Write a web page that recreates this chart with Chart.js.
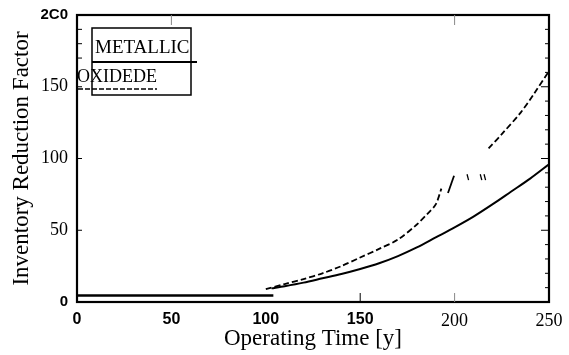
<!DOCTYPE html>
<html>
<head>
<meta charset="utf-8">
<script src="https://cdn.jsdelivr.net/npm/chart.js@4.4.1/dist/chart.umd.min.js"></script>
<style>
  html, body { margin: 0; padding: 0; background: #fff; }
  #wrap { width: 569px; height: 355px; }
</style>
</head>
<body>
<div id="wrap"><canvas id="chart" width="569" height="355"></canvas></div>
<script>
// Flat base line
const flatTime = [0, 104];
const flatValue = [4.5, 4.5];

// Metallic fuel (solid)
const metalTime = [103, 110, 120, 130, 140, 150, 160, 170, 180, 190, 200, 210, 220, 230, 240, 250];
const metalValue = [9.5, 11, 13.5, 16.5, 19.5, 23, 27, 32, 38, 45, 52, 59.5, 68, 77, 86, 96];

// Oxide fuel (dashed), two pieces with a gap
const oxideTime = [100, 110, 120, 130, 140, 150, 160, 170, 180, 186, 190, 193, 205, 218, 225, 235, 242, 250];
const oxideValue = [9, 12.5, 16, 20, 25, 31, 37, 43.5, 54, 62, 68, 79, null, 107, 117, 132, 145, 161];

// Stray fragments in the gap
const fragTime = [196.5, 199.7];
const fragValue = [76, 88];
const tickMarkTime = [207, 214, 216];
const tickMarkValue = [87, 87, 87];

const yTicks = [0, 50, 100, 150, 200];
const xTicks = [0, 50, 100, 150, 200, 250];

const pts = (xs, ys) => xs.map((x, i) => ({ x, y: ys[i] }));

const serif = "'Liberation Serif', 'DejaVu Serif', serif";
const sans = "'Liberation Sans', Arial, sans-serif";

// frame, inward ticks and the boxed legend
const decor = {
  id: "decor",
  afterDraw(chart) {
    const { ctx, chartArea: a, scales } = chart;
    const xs = scales.x, ys = scales.y;
    ctx.save();
    ctx.strokeStyle = "#000";
    ctx.lineWidth = 2.2;
    ctx.strokeRect(a.left, a.top, a.right - a.left, a.bottom - a.top);

    ctx.lineWidth = 1;
    // right side minor ticks every 10
    for (let v = 10; v < 200; v += 10) {
      const y = ys.getPixelForValue(v);
      ctx.beginPath();
      ctx.moveTo(a.right, y);
      ctx.lineTo(a.right - (v % 50 === 0 ? 8 : 4), y);
      ctx.stroke();
    }
    // left side ticks
    [50, 100, 150, 170, 180, 190].forEach((v) => {
      const y = ys.getPixelForValue(v);
      ctx.beginPath();
      ctx.moveTo(a.left, y);
      ctx.lineTo(a.left + 5, y);
      ctx.stroke();
    });
    // top / bottom ticks
    ctx.strokeStyle = "#888";
    [50, 200].forEach((v) => {
      const x = xs.getPixelForValue(v);
      ctx.beginPath();
      ctx.moveTo(x, a.top);
      ctx.lineTo(x, a.top + 10);
      ctx.stroke();
    });
    [150, 200].forEach((v) => {
      const x = xs.getPixelForValue(v);
      ctx.strokeStyle = v === 150 ? "#000" : "#888";
      ctx.beginPath();
      ctx.moveTo(x, a.bottom);
      ctx.lineTo(x, a.bottom - 9);
      ctx.stroke();
    });

    // legend box
    ctx.strokeStyle = "#000";
    ctx.lineWidth = 1.5;
    ctx.strokeRect(92, 28, 99, 67);
    ctx.fillStyle = "#000";
    ctx.textBaseline = "middle";
    ctx.textAlign = "left";
    ctx.font = "19px " + serif;
    ctx.fillText("METALLIC", 95, 48);
    ctx.font = "18px " + serif;
    ctx.fillText("OXIDEDE", 77, 77);
    ctx.lineWidth = 2;
    ctx.beginPath();
    ctx.moveTo(92, 62);
    ctx.lineTo(197, 62);
    ctx.stroke();
    ctx.lineWidth = 1.5;
    ctx.setLineDash([5, 2]);
    ctx.beginPath();
    ctx.moveTo(78, 89);
    ctx.lineTo(157, 89);
    ctx.stroke();
    ctx.restore();
  },
};

new Chart(document.getElementById("chart"), {
  type: "line",
  data: {
    datasets: [
      {
        label: "base",
        data: pts(flatTime, flatValue),
        borderColor: "#000",
        borderWidth: 2.5,
        pointRadius: 0,
      },
      {
        label: "METALLIC",
        data: pts(metalTime, metalValue),
        borderColor: "#000",
        borderWidth: 2,
        pointRadius: 0,
        tension: 0.3,
      },
      {
        label: "OXIDE",
        data: pts(oxideTime, oxideValue),
        borderColor: "#000",
        borderWidth: 1.8,
        borderDash: [6, 3],
        pointRadius: 0,
        tension: 0.3,
        spanGaps: false,
      },
      {
        label: "frag",
        data: pts(fragTime, fragValue),
        borderColor: "#000",
        borderWidth: 1.8,
        pointRadius: 0,
      },
      {
        label: "marks",
        data: pts(tickMarkTime, tickMarkValue),
        showLine: false,
        pointStyle: "line",
        rotation: 75,
        pointRadius: 3,
        borderColor: "#000",
        borderWidth: 1.3,
      },
    ],
  },
  plugins: [decor],
  options: {
    responsive: false,
    animation: false,
    layout: { padding: { top: 15, right: 20, left: 0, bottom: 0 } },
    plugins: { legend: { display: false }, tooltip: { enabled: false } },
    scales: {
      x: {
        type: "linear",
        min: 0,
        max: 250,
        afterFit: (s) => { s.height = 53; },
        afterBuildTicks: (s) => { s.ticks = xTicks.map((v) => ({ value: v })); },
        grid: { display: false },
        border: { display: false },
        ticks: {
          padding: 0,
          color: "#000",
          maxRotation: 0,
          font: (c) => (c.tick && c.tick.value >= 200
            ? { family: serif, size: 18 }
            : { family: sans, size: 16, weight: "bold" }),
        },
        title: {
          display: true,
          text: "Operating Time [y]",
          color: "#000",
          font: { family: serif, size: 23 },
          padding: { top: 0, bottom: 2 },
        },
      },
      y: {
        min: 0,
        max: 200,
        afterFit: (s) => { s.width = 77; },
        afterBuildTicks: (s) => { s.ticks = yTicks.map((v) => ({ value: v })); },
        grid: { display: false },
        border: { display: false },
        ticks: {
          padding: 1,
          color: "#000",
          callback: (v) => (v === 200 ? "2C0" : String(v)),
          font: (c) => (c.tick && (c.tick.value === 0 || c.tick.value === 200)
            ? { family: sans, size: 15, weight: "bold" }
            : { family: serif, size: 18 }),
        },
        title: {
          display: true,
          text: "Inventory Reduction Factor",
          color: "#000",
          font: { family: serif, size: 23 },
          padding: { top: 8, bottom: 0 },
        },
      },
    },
  },
});
</script>
</body>
</html>
